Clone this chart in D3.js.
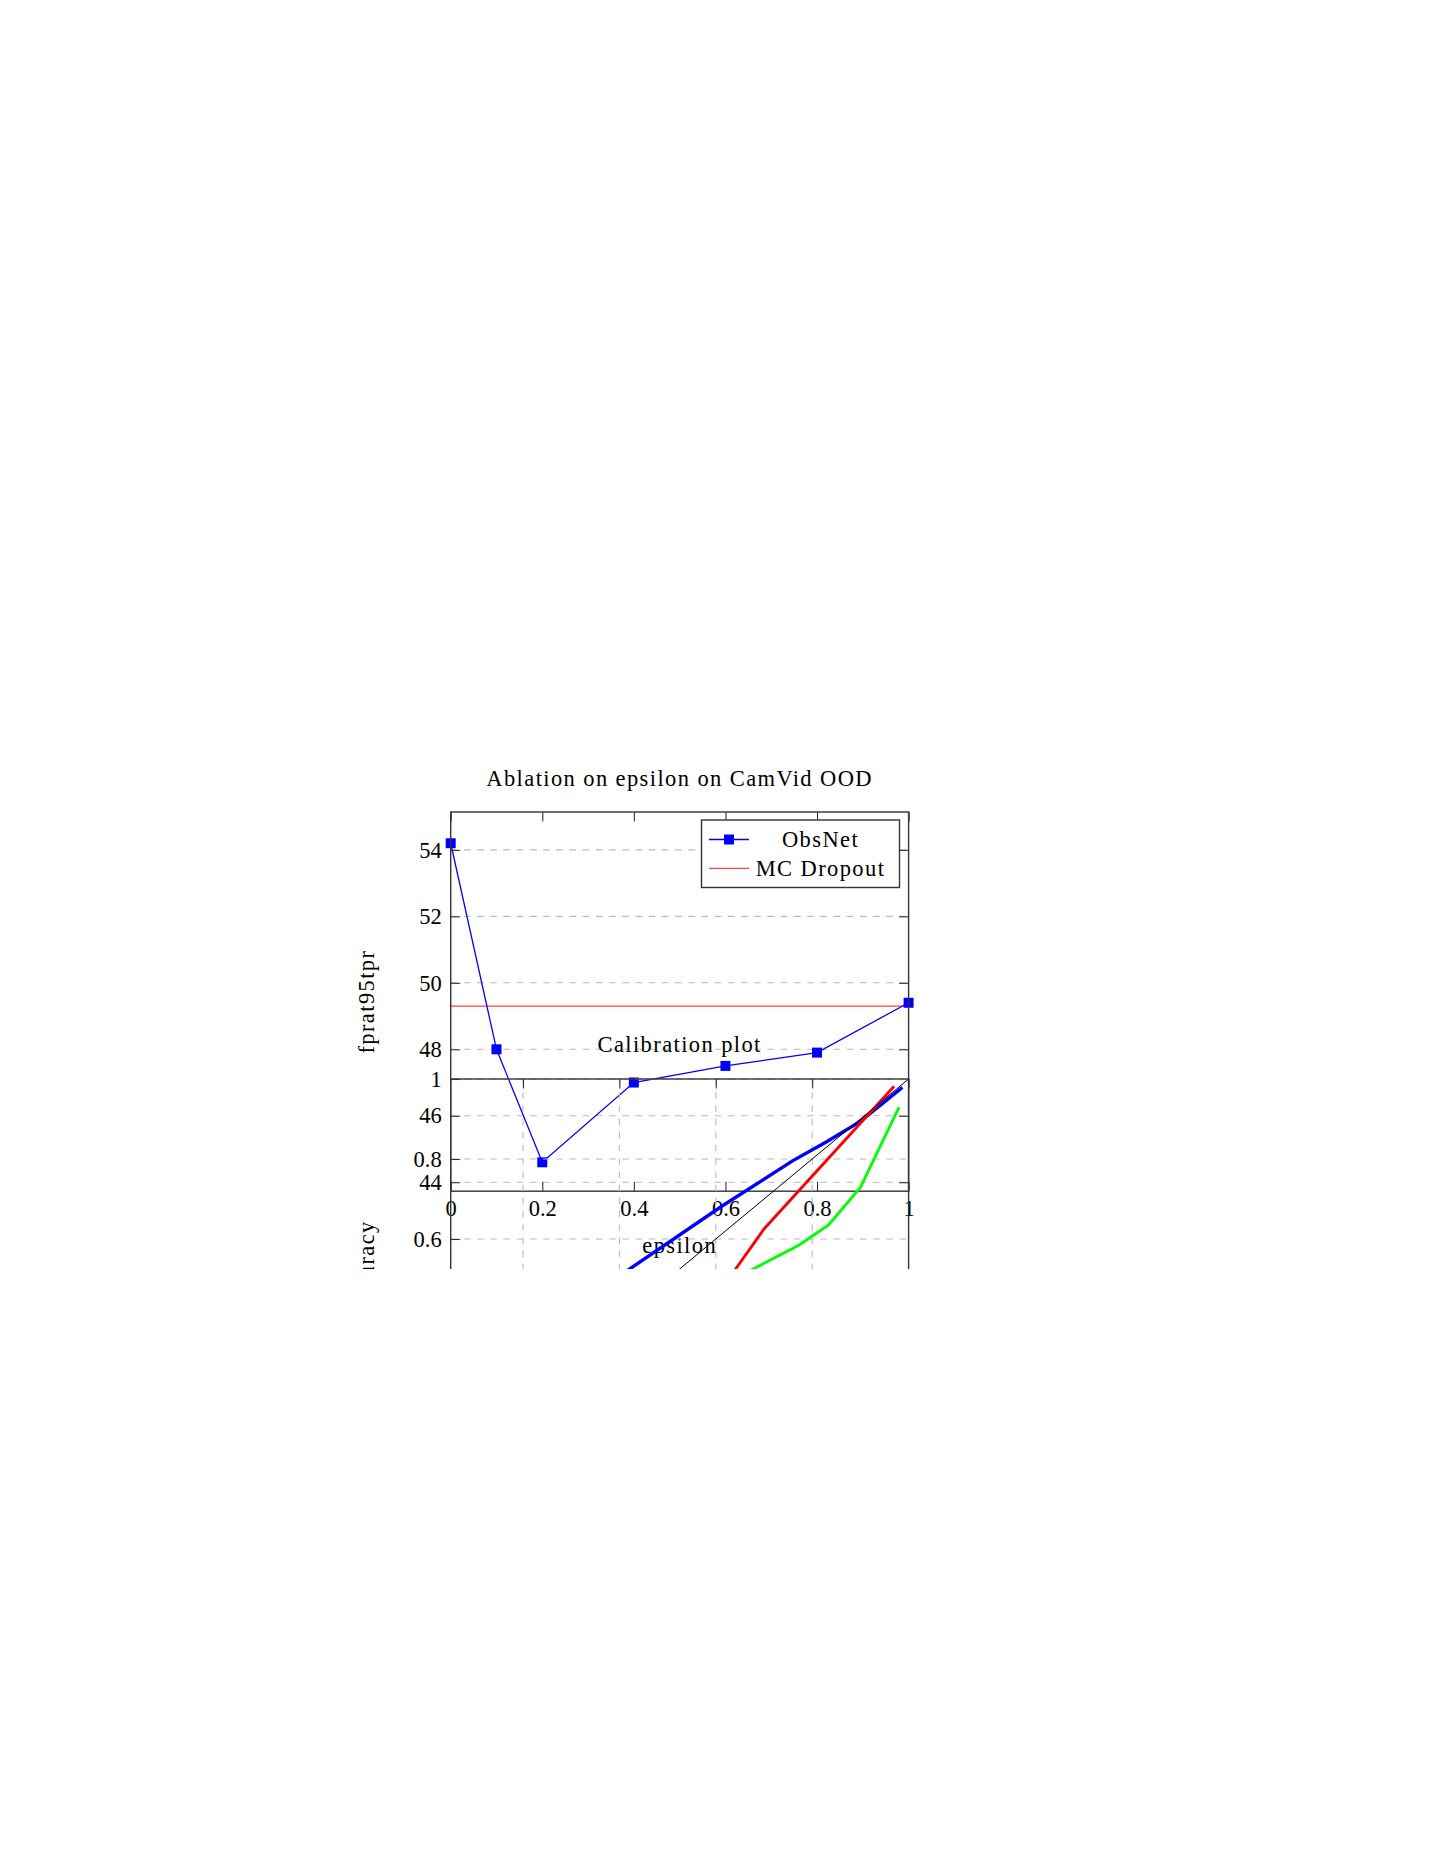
<!doctype html>
<html>
<head>
  <meta charset="UTF-8">
  <title>Ablation on epsilon</title>
  <script src="https://cdn.jsdelivr.net/npm/d3@7"></script>
  <style>
    body { margin: 0; background: #fff; }
    text { font-family: "Liberation Serif", serif; font-size: 22.5px; fill: #000; }
    .word { letter-spacing: 1.4px; }
    .grid line { stroke: #bbb; stroke-width: 1.1; stroke-dasharray: 6.6 6.6; }
    .ax .domain { display: none; }
    .ax line { stroke: #333; stroke-width: 1.1; }
  </style>
</head>
<body>
<script>
  // ablation plot
  var epsilon = [0, 0.1, 0.2, 0.4, 0.6, 0.8, 1];
  var obsnet = [54.2, 48.0, 44.6, 47.0, 47.5, 47.9, 49.4];
  var mcDropout = 49.3;
  var fprTicks = [44, 46, 48, 50, 52, 54];
  var epsTicks = [0, 0.2, 0.4, 0.6, 0.8, 1];

  // calibration plot (partly hidden below the crop)
  var calTicks = [0.2, 0.4, 0.6, 0.8, 1];
  var calBlue = [[0.38, 0.49], [0.42, 0.524], [0.61, 0.68], [0.76, 0.796], [0.83, 0.843], [0.90, 0.894], [0.987, 0.979]];
  var calRed = [[0.60, 0.455], [0.70, 0.625], [0.97, 0.982]];
  var calGreen = [[0.58, 0.464], [0.773, 0.585], [0.834, 0.635], [0.90, 0.729], [0.98, 0.929]];
  var calIdeal = [[0, 0], [1, 1]];

  var W = 1444, H = 1870;
  var L = 450.7, R = 908.6;
  var T1 = 812, B1 = 1191.2;
  var T2 = 1079, B2 = 1459;
  var tick = 9.5;

  var svg = d3.select("body").append("svg")
    .attr("width", W).attr("height", H);
  var defs = svg.append("defs");
  defs.append("clipPath").attr("id", "crop")
    .append("rect").attr("x", 0).attr("y", 0).attr("width", W).attr("height", 1269);
  defs.append("clipPath").attr("id", "calArea")
    .append("rect").attr("x", L).attr("y", T2).attr("width", R - L).attr("height", B2 - T2);

  var root = svg.append("g").attr("clip-path", "url(#crop)");

  function styleAxis(g) {
    g.attr("font-family", "Liberation Serif, serif").attr("font-size", 22.5);
    g.selectAll("text").style("font-family", "Liberation Serif, serif").style("font-size", "22.5px");
  }

  var x = d3.scaleLinear().domain([0, 1]).range([L, R]);
  var y = d3.scaleLinear().domain([43.73, 55.14]).range([B1, T1]);

  // ---- first axis ----
  var g1 = root.append("g");
  g1.append("g").attr("class", "grid")
    .selectAll("line").data(fprTicks).enter().append("line")
    .attr("x1", L).attr("x2", R)
    .attr("y1", function(d) { return y(d); })
    .attr("y2", function(d) { return y(d); });

  g1.append("line")
    .attr("x1", L).attr("x2", R)
    .attr("y1", y(mcDropout)).attr("y2", y(mcDropout))
    .attr("stroke", "#ff4040").attr("stroke-width", 1.3);

  g1.append("path")
    .datum(epsilon.map(function(e, i) { return [e, obsnet[i]]; }))
    .attr("fill", "none").attr("stroke", "#0000ff").attr("stroke-width", 1.3)
    .attr("d", d3.line().x(function(d) { return x(d[0]); }).y(function(d) { return y(d[1]); }));

  g1.selectAll("rect.mk").data(epsilon).enter().append("rect")
    .attr("class", "mk")
    .attr("x", function(d) { return x(d) - 5; })
    .attr("y", function(d, i) { return y(obsnet[i]) - 5; })
    .attr("width", 10).attr("height", 10)
    .attr("fill", "#0000ff");

  g1.append("g").attr("class", "ax").attr("transform", "translate(" + L + ",0)")
    .call(d3.axisLeft(y).tickValues(fprTicks).tickSize(-tick).tickSizeOuter(0).tickPadding(9))
    .call(styleAxis);
  g1.append("g").attr("class", "ax").attr("transform", "translate(" + R + ",0)")
    .call(d3.axisRight(y).tickValues(fprTicks).tickSize(-tick).tickSizeOuter(0).tickFormat(""));
  g1.append("g").attr("class", "ax").attr("transform", "translate(0," + B1 + ")")
    .call(d3.axisBottom(x).tickValues(epsTicks).tickSize(-tick).tickSizeOuter(0).tickPadding(9).tickFormat(function(d) { return d; }))
    .call(styleAxis);
  g1.append("g").attr("class", "ax").attr("transform", "translate(0," + T1 + ")")
    .call(d3.axisTop(x).tickValues(epsTicks).tickSize(-tick).tickSizeOuter(0).tickFormat(""));

  g1.append("rect")
    .attr("x", L).attr("y", T1).attr("width", R - L).attr("height", B1 - T1)
    .attr("fill", "none").attr("stroke", "#333").attr("stroke-width", 1.4);

  g1.append("text").attr("class", "word")
    .attr("x", (L + R) / 2).attr("y", 786).attr("text-anchor", "middle")
    .text("Ablation on epsilon on CamVid OOD");
  g1.append("text").attr("class", "word")
    .attr("x", (L + R) / 2).attr("y", 1253).attr("text-anchor", "middle")
    .text("epsilon");
  g1.append("text").attr("class", "word")
    .attr("transform", "translate(373.5," + (T1 + B1) / 2 + ") rotate(-90)")
    .attr("text-anchor", "middle")
    .text("fprat95tpr");

  // legend
  var lg = g1.append("g");
  lg.append("rect").attr("x", 701.5).attr("y", 820).attr("width", 198).attr("height", 67.5)
    .attr("fill", "#fff").attr("stroke", "#333").attr("stroke-width", 1.4);
  lg.append("line").attr("x1", 709).attr("x2", 749).attr("y1", 839.5).attr("y2", 839.5)
    .attr("stroke", "#0000ff").attr("stroke-width", 1.3);
  lg.append("rect").attr("x", 724).attr("y", 834.5).attr("width", 10).attr("height", 10)
    .attr("fill", "#0000ff");
  lg.append("line").attr("x1", 709).attr("x2", 749).attr("y1", 868.3).attr("y2", 868.3)
    .attr("stroke", "#ff4040").attr("stroke-width", 1.3);
  lg.append("text").attr("class", "word").attr("x", 820.5).attr("y", 847.3)
    .attr("text-anchor", "middle").text("ObsNet");
  lg.append("text").attr("class", "word").attr("x", 820.5).attr("y", 875.5)
    .attr("text-anchor", "middle").text("MC Dropout");

  // ---- second axis: calibration ----
  var cx = d3.scaleLinear().domain([0.05, 1]).range([L, R]);
  var cy = d3.scaleLinear().domain([0.05, 1]).range([B2, T2]);
  var g2 = root.append("g");

  g2.append("g").attr("class", "grid")
    .selectAll("line.h").data(calTicks).enter().append("line")
    .attr("x1", L).attr("x2", R)
    .attr("y1", function(d) { return cy(d); })
    .attr("y2", function(d) { return cy(d); });
  g2.append("g").attr("class", "grid")
    .selectAll("line.v").data(calTicks.slice(0, 4)).enter().append("line")
    .attr("y1", T2).attr("y2", B2)
    .attr("x1", function(d) { return cx(d); })
    .attr("x2", function(d) { return cx(d); });

  var cline = d3.line().x(function(d) { return cx(d[0]); }).y(function(d) { return cy(d[1]); });
  var plot = g2.append("g").attr("clip-path", "url(#calArea)");
  plot.append("path").datum(calBlue).attr("d", cline)
    .attr("fill", "none").attr("stroke", "#0000ff").attr("stroke-width", 3.4);
  plot.append("path").datum(calRed).attr("d", cline)
    .attr("fill", "none").attr("stroke", "#ff0000").attr("stroke-width", 2.8);
  plot.append("path").datum(calGreen).attr("d", cline)
    .attr("fill", "none").attr("stroke", "#00ff00").attr("stroke-width", 2.8);
  plot.append("path").datum(calIdeal).attr("d", cline)
    .attr("fill", "none").attr("stroke", "#000").attr("stroke-width", 1);

  g2.append("g").attr("class", "ax").attr("transform", "translate(" + L + ",0)")
    .call(d3.axisLeft(cy).tickValues(calTicks).tickSize(-tick).tickSizeOuter(0).tickPadding(9)
      .tickFormat(function(d) { return d; }))
    .call(styleAxis);
  g2.append("g").attr("class", "ax").attr("transform", "translate(0," + T2 + ")")
    .call(d3.axisTop(cx).tickValues(calTicks).tickSize(-tick).tickSizeOuter(0).tickFormat(""));

  g2.append("rect")
    .attr("x", L).attr("y", T2).attr("width", R - L).attr("height", B2 - T2)
    .attr("fill", "none").attr("stroke", "#333").attr("stroke-width", 1.4);

  g2.append("text").attr("class", "word")
    .attr("x", (L + R) / 2).attr("y", 1051.5).attr("text-anchor", "middle")
    .text("Calibration plot");
  g2.append("text").attr("class", "word")
    .attr("transform", "translate(373.5," + (T2 + B2) / 2 + ") rotate(-90)")
    .attr("text-anchor", "middle")
    .text("Accuracy");
</script>
</body>
</html>
